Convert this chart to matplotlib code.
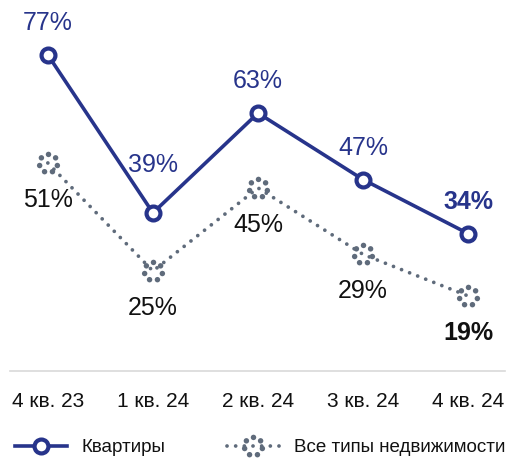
import numpy as np
import matplotlib
matplotlib.use('Agg')
import matplotlib.pyplot as plt
from matplotlib.path import Path

plt.rcParams['font.family'] = ['Liberation Sans', 'DejaVu Sans']

quarters = ['4 кв. 23', '1 кв. 24', '2 кв. 24', '3 кв. 24', '4 кв. 24']
flats = [77, 39, 63, 47, 34]
all_types = [51, 25, 45, 29, 19]

BLUE = '#27348b'
GREY = '#5f6b7b'


def dotted_ring(n_dots=7, ring_r=1.0, dot_r=0.3):
    '''custom marker: a ring made of small dots'''
    paths = []
    for k in range(n_dots):
        a = np.pi / 2 + 2 * np.pi * k / n_dots
        paths.append(Path.circle((ring_r * np.cos(a), ring_r * np.sin(a)), dot_r))
    return Path.make_compound_path(*paths)


fig = plt.figure(figsize=(5.08, 4.62), dpi=100)
ax = fig.add_axes([10 / 508, 91 / 462, 495 / 508, 371 / 462])

x = np.arange(len(quarters))

ax.plot(x, all_types, color=GREY, lw=2.7, linestyle=(0, (0.01, 2.3)),
        dash_capstyle='round', marker=dotted_ring(), markersize=17,
        markerfacecolor=GREY, markeredgewidth=0,
        label='Все типы недвижимости', zorder=2)
ax.plot(x, flats, color=BLUE, lw=2.6, marker='o', markersize=10,
        markerfacecolor='white', markeredgecolor=BLUE, markeredgewidth=3,
        label='Квартиры', zorder=3)

# value labels
flat_offsets = [23, 34.5, 23, 23, 23]
for i, v in enumerate(flats):
    ax.annotate(f'{v}%', (x[i], v), xytext=(0, flat_offsets[i]),
                textcoords='offset points', ha='center', va='center',
                fontsize=18, color=BLUE,
                fontweight='bold' if i == len(flats) - 1 else 'normal')
for i, v in enumerate(all_types):
    ax.annotate(f'{v}%', (x[i], v), xytext=(0, -26.5),
                textcoords='offset points', ha='center', va='center',
                fontsize=18, color='#111111',
                fontweight='bold' if i == len(all_types) - 1 else 'normal')

ax.set_xlim(-0.36, 4.35)
ax.set_ylim(0.96, 90.2)
ax.set_xticks(x)
ax.set_xticklabels(quarters, fontsize=15, color='#111111')
ax.tick_params(axis='x', length=0, pad=15)
ax.set_yticks([])
for s in ['top', 'left', 'right']:
    ax.spines[s].set_visible(False)
ax.spines['bottom'].set_color('#d9d9d9')
ax.spines['bottom'].set_linewidth(1.2)
ax.patch.set_alpha(0)

handles, labels = ax.get_legend_handles_labels()
fig.legend(handles[::-1], labels[::-1], loc='center',
           bbox_to_anchor=(0.512, 0.031), ncol=2, frameon=False,
           fontsize=13.5, handlelength=2.75, handletextpad=0.8,
           columnspacing=3.3, labelcolor='#111111')

fig.savefig('out.png', dpi=100)
